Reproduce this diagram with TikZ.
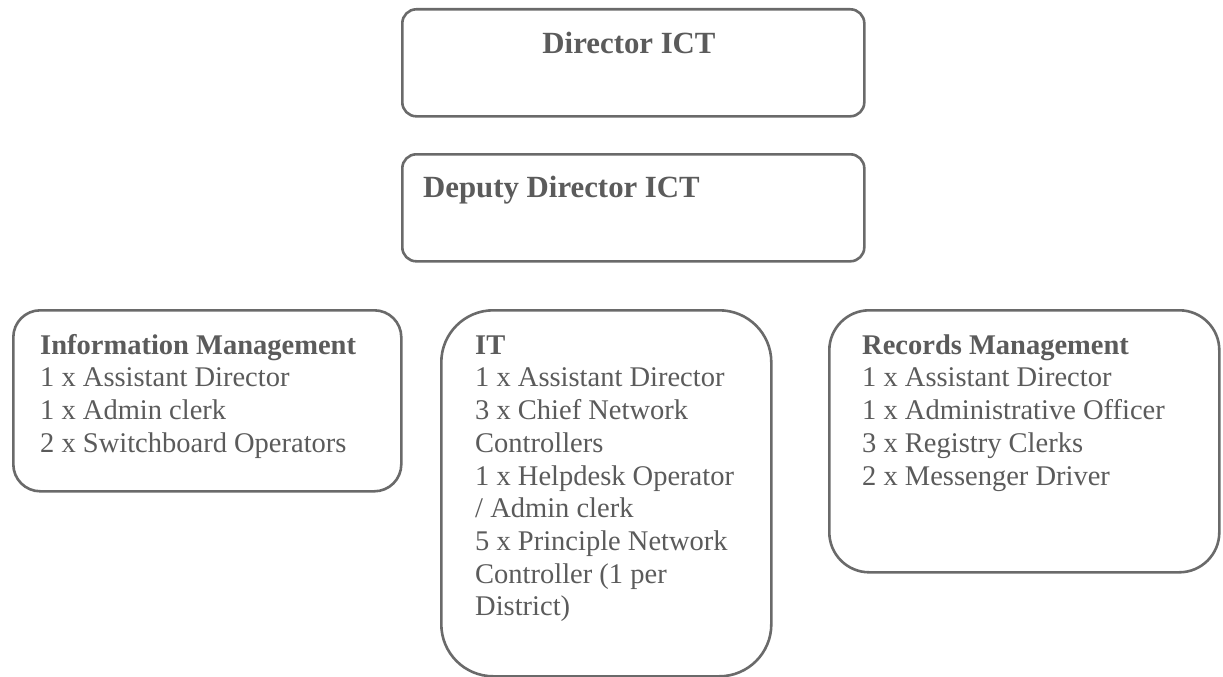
\documentclass[tikz,border=0pt]{standalone}
\usepackage{fontspec}
\setmainfont{Liberation Serif}
\definecolor{inkgray}{HTML}{5B5B5B}
\definecolor{framegray}{HTML}{6A6A6A}
\tikzset{
  unitbox/.style={draw=framegray, line width=2.6pt, rectangle, inner sep=0pt, anchor=north west},
  boxtext/.style={anchor=north west, align=left, inner sep=0pt, text=inkgray,
                  font=\fontsize{28.5}{32.7}\selectfont},
  titletext/.style={inner sep=0pt, text=inkgray, font=\fontsize{30.8}{35.4}\selectfont\bfseries},
}
\newcommand{\firstline}{\rule{0pt}{22pt}}
\begin{document}
\begin{tikzpicture}[x=1pt, y=-1pt]
  \useasboundingbox (0,0) rectangle (1223,677);
  \fill[white] (0,0) rectangle (1223,677);

  % top of the chart
  \node[unitbox, rounded corners=14pt, minimum width=462pt, minimum height=107pt] (director) at (401,8) {};
  \node[titletext, anchor=base] (director-title) at (629,53) {Director ICT};

  \node[unitbox, rounded corners=14pt, minimum width=462pt, minimum height=107pt] (deputy) at (401,153) {};
  \node[titletext, anchor=base west] (deputy-title) at (423,197) {Deputy Director ICT};

  % the three units
  \node[unitbox, rounded corners=27pt, minimum width=388pt, minimum height=181pt] (infomgmt) at (12,309) {};
  \node[boxtext] (infomgmt-staff) at (40,332) {\firstline\textbf{Information Management}\\
    1 x Assistant Director\\
    1 x Admin clerk\\
    2 x Switchboard Operators};

  \node[unitbox, rounded corners=52pt, minimum width=330pt, minimum height=366pt] (it) at (440,309) {};
  \node[boxtext] (it-staff) at (475,332) {\firstline\textbf{IT}\\
    1 x Assistant Director\\
    3 x Chief Network\\
    Controllers\\
    1 x Helpdesk Operator\\
    / Admin clerk\\
    5 x Principle Network\\
    Controller (1 per\\
    District)};

  \node[unitbox, rounded corners=40pt, minimum width=390pt, minimum height=262pt] (records) at (828,309) {};
  \node[boxtext] (records-staff) at (862,332) {\firstline\textbf{Records Management}\\
    1 x Assistant Director\\
    1 x Administrative Officer\\
    3 x Registry Clerks\\
    2 x Messenger Driver};
\end{tikzpicture}
\end{document}
